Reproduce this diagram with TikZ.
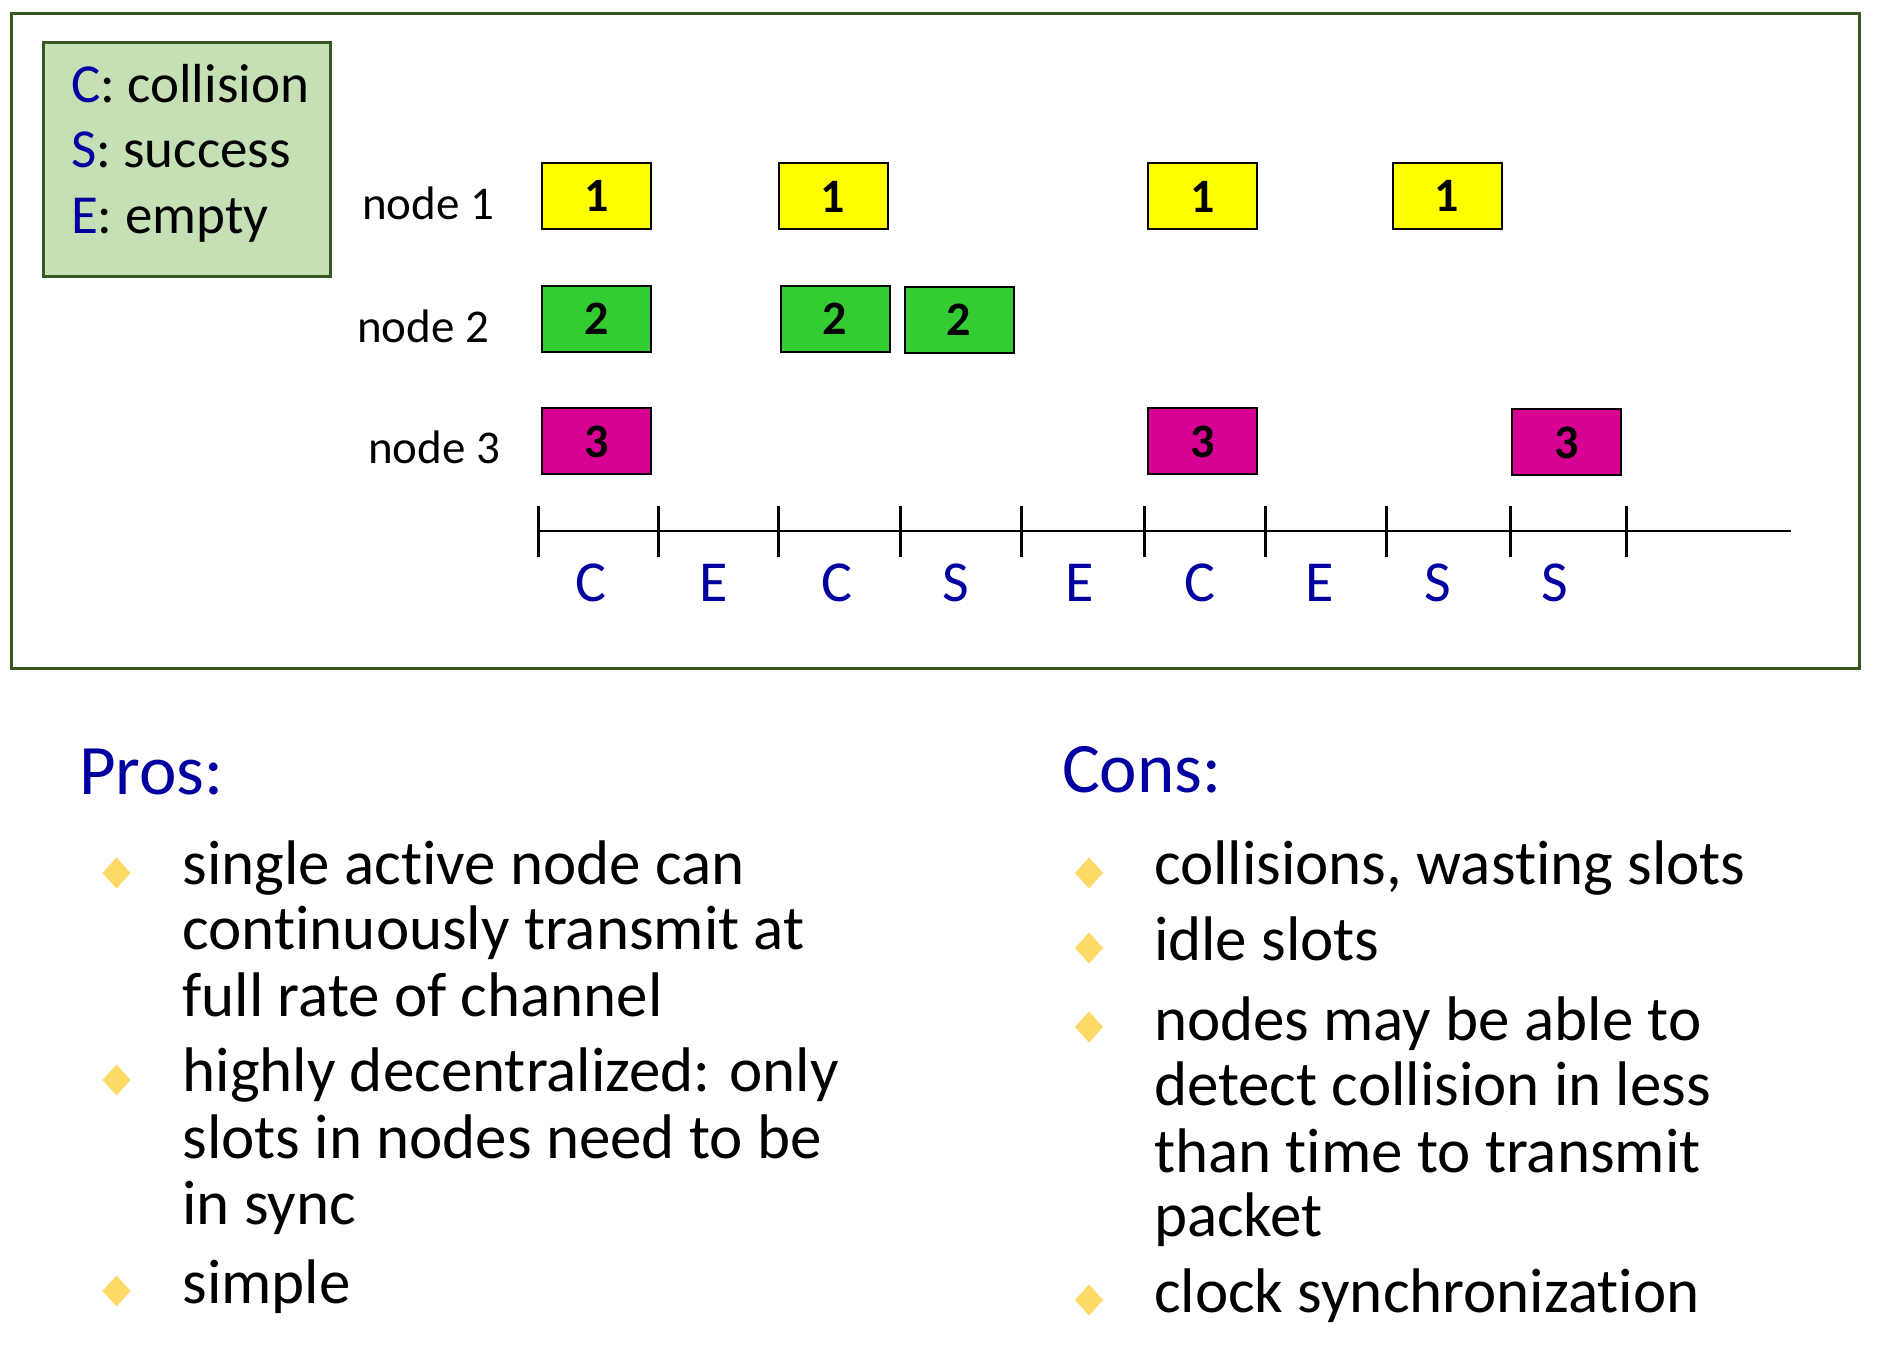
\documentclass[tikz,border=0pt]{standalone}
\usepackage{fontspec}
\setmainfont{Carlito}[Ligatures=NoCommon]
\usetikzlibrary{shapes.geometric}

\definecolor{framegreen}{RGB}{56,87,35}
\definecolor{legendfill}{RGB}{197,224,180}
\definecolor{slotblue}{RGB}{0,0,160}
\definecolor{pktone}{RGB}{255,255,0}
\definecolor{pkttwo}{RGB}{51,204,51}
\definecolor{pktthree}{RGB}{214,0,147}
\definecolor{bulletgold}{RGB}{255,217,102}

\begin{document}
\begin{tikzpicture}[x=0.5pt,y=-0.5pt,
  every node/.style={inner sep=0pt, outer sep=0pt},
  pkt/.style={draw=black, line width=1pt, minimum width=54.5pt, minimum height=33pt,
              font=\fontsize{24}{24}\selectfont\bfseries},
  legendtxt/.style={anchor=base west, font=\fontsize{27.5}{27.5}\selectfont},
  nodelbl/.style={anchor=base west, font=\fontsize{23.5}{23.5}\selectfont},
  slotlbl/.style={anchor=base, text=slotblue, font=\fontsize{29}{29}\selectfont},
  heading/.style={anchor=base west, text=slotblue, font=\fontsize{35.5}{35.5}\selectfont},
  itemtxt/.style={anchor=base west, font=\fontsize{31.5}{31.5}\selectfont},
  gem/.style={diamond, fill=bulletgold, minimum width=14pt, minimum height=15.5pt}
]
% canvas
\path[use as bounding box, fill=white] (0,0) rectangle (1886,1368);

% outer frame around the slot diagram
\draw[framegreen, line width=1.5pt] (11,14) rectangle (1859,669);

% legend
\draw[framegreen, fill=legendfill, line width=1.5pt] (43,43) rectangle (330,277);
\node[legendtxt] (lc) at (71,103) {\textcolor{slotblue}{C}: collision};
\node[legendtxt] (ls) at (71,168) {\textcolor{slotblue}{S}: success};
\node[legendtxt] (le) at (71,234) {\textcolor{slotblue}{E}: empty};

% node labels
\node[nodelbl] (n1) at (362,220) {node 1};
\node[nodelbl] (n2) at (357,343) {node 2};
\node[nodelbl] (n3) at (368,464) {node 3};

% packets of node 1
\node[pkt, fill=pktone] (p1a) at (596.5,196) {1};
\node[pkt, fill=pktone] (p1b) at (833,196.5) {1};
\node[pkt, fill=pktone] (p1c) at (1202.5,196.5) {1};
\node[pkt, fill=pktone] (p1d) at (1447,196) {1};
% packets of node 2
\node[pkt, fill=pkttwo] (p2a) at (596.5,319) {2};
\node[pkt, fill=pkttwo] (p2b) at (835,319) {2};
\node[pkt, fill=pkttwo] (p2c) at (959,320) {2};
% packets of node 3
\node[pkt, fill=pktthree] (p3a) at (596.5,441.5) {3};
\node[pkt, fill=pktthree] (p3b) at (1202.5,441.5) {3};
\node[pkt, fill=pktthree] (p3c) at (1566.5,442.5) {3};

% time axis with slot boundaries
\coordinate (axs) at (538,531);
\coordinate (axe) at (1791,531);
\draw[line width=1pt] (axs) -- (axe);
\foreach \x in {538,658,778,900,1021,1144,1265,1386,1510,1626}
  \draw[line width=1.5pt] (\x,506) -- (\x,557);

% slot outcomes
\foreach \x/\s [count=\i] in {591/C,714/E,837/C,956/S,1080/E,1200/C,1320/E,1438/S,1555/S}
  \node[slotlbl] (slot\i) at (\x,602) {\s};

% pros
\node[heading] (pros) at (79,795) {Pros:};
\node[gem] (pb1) at (116.5,873) {};
\node[itemtxt] (pa1) at (182.5,885) {single active node can};
\node[itemtxt] (pa2) at (182.5,950) {continuously transmit at};
\node[itemtxt] (pa3) at (182.5,1016) {full rate of channel};
\node[gem] (pb2) at (116.5,1080) {};
\node[itemtxt] (pb1t) at (182.5,1091) {highly decentralized: only};
\node[itemtxt] (pb2t) at (182.5,1158) {slots in nodes need to be};
\node[itemtxt] (pb3t) at (182.5,1224) {in sync};
\node[gem] (pb3) at (116.5,1291) {};
\node[itemtxt] (pc1) at (182.5,1303) {simple};

% cons
\node[heading] (cons) at (1062,793) {Cons:};
\node[gem] (cb1) at (1089,873) {};
\node[itemtxt] (ca1) at (1154,885) {collisions, wasting slots};
\node[gem] (cb2) at (1089,948) {};
\node[itemtxt] (cb1t) at (1154,961) {idle slots};
\node[gem] (cb3) at (1089,1027) {};
\node[itemtxt] (cc1) at (1154,1040) {nodes may be able to};
\node[itemtxt] (cc2) at (1154,1105) {detect collision in less};
\node[itemtxt] (cc3) at (1154,1172) {than time to transmit};
\node[itemtxt] (cc4) at (1154,1236) {packet};
\node[gem] (cb4) at (1089,1300) {};
\node[itemtxt] (cd1) at (1154,1312) {clock synchronization};
\end{tikzpicture}
\end{document}
